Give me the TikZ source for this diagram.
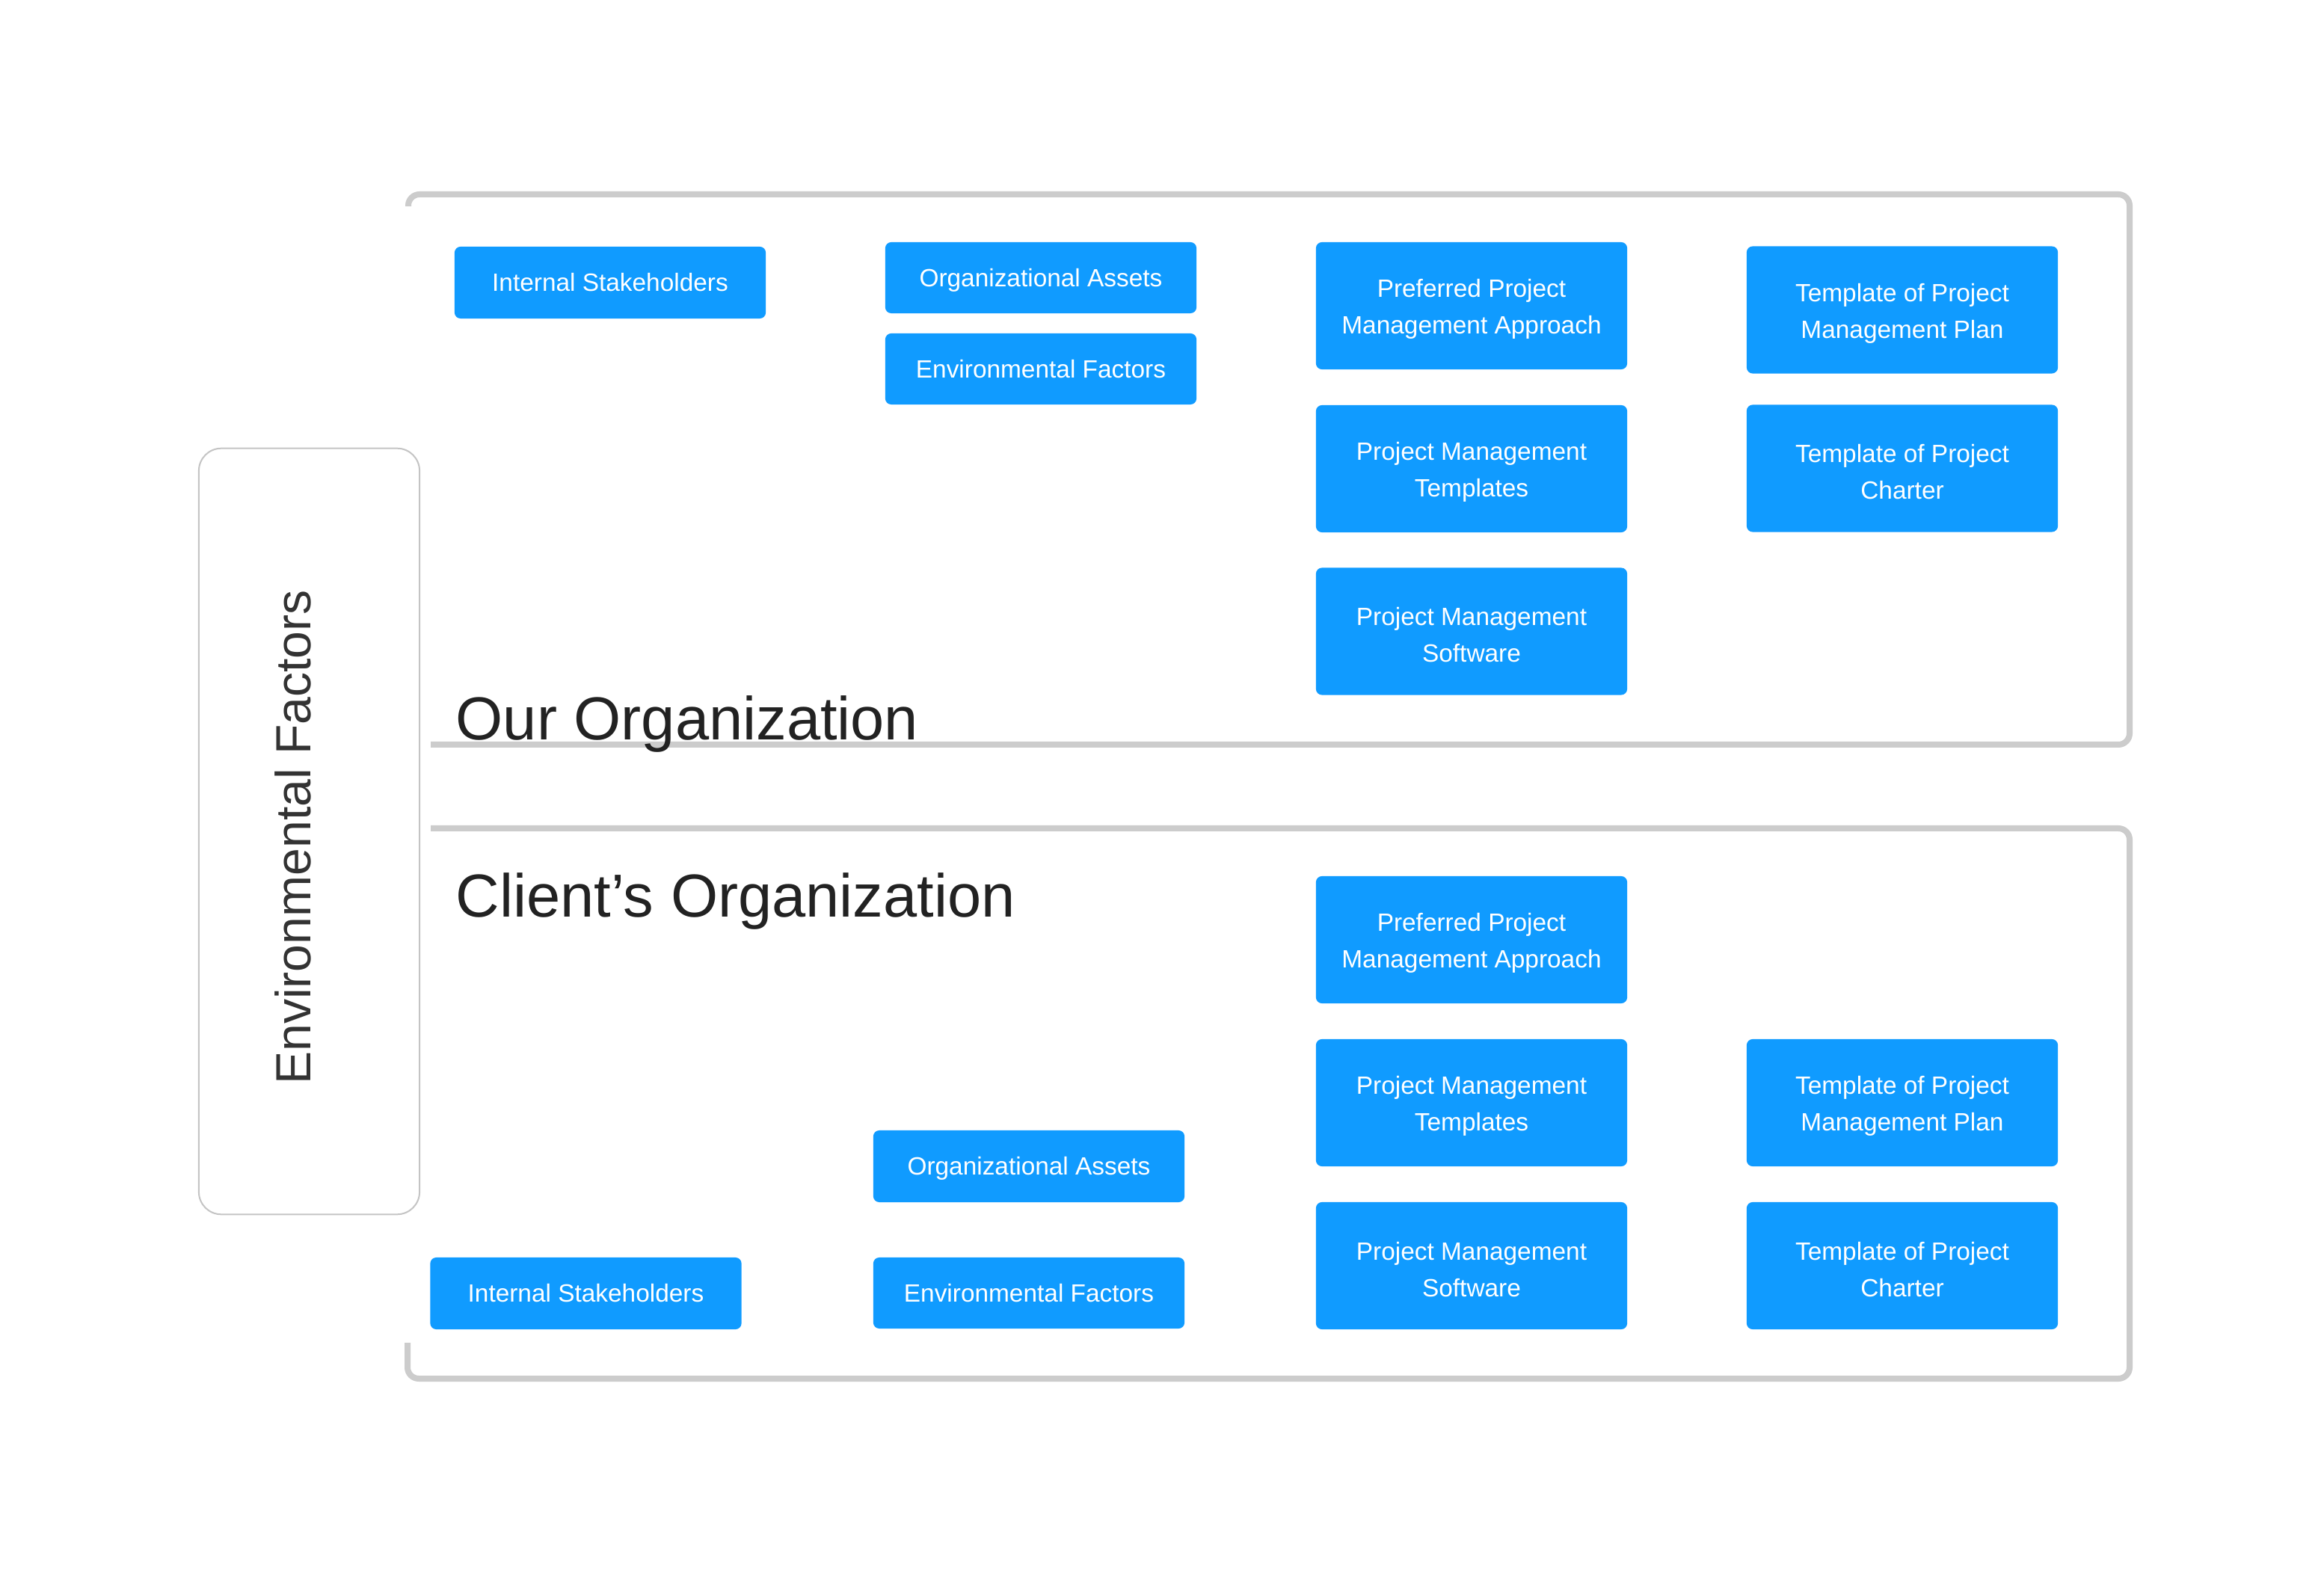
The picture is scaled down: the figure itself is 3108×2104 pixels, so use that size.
\documentclass[tikz,border=0pt]{standalone}
\usepackage{fontspec}
\setmainfont{Liberation Sans}
\definecolor{boxblue}{HTML}{109BFF}
\definecolor{framegray}{HTML}{CCCCCC}
\definecolor{headink}{HTML}{222222}
\definecolor{envink}{HTML}{333333}
\definecolor{envedge}{HTML}{C4C4C4}
\newcommand\boxstrut{\rule{0pt}{9.6pt}}
\tikzset{
  bluebox/.style={fill=boxblue, rounded corners=0.08cm, text=white,
    font=\fontsize{9.5}{13.9}\selectfont, align=center, inner sep=0pt,
    minimum width=4.16cm},
  tallbox/.style={bluebox, minimum height=1.70cm},
  flatbox/.style={bluebox, minimum height=0.96cm,
    execute at begin node={\rule{0pt}{9.3pt}},
    execute at end node={\rule[-2.5pt]{0pt}{2.5pt}}},
  frameline/.style={draw=framegray, line width=0.08cm, rounded corners=0.15cm},
  envframe/.style={draw=envedge, line width=0.02cm, fill=white, rounded corners=0.3cm,
    inner sep=0pt, minimum width=2.95cm, minimum height=10.24cm},
  headtext/.style={text=headink, font=\fontsize{23.1}{27}\selectfont, inner sep=0pt, anchor=base west},
  envtext/.style={text=envink, font=\fontsize{18.8}{22}\selectfont, inner sep=0pt, rotate=90, anchor=base}
}
\begin{document}
\begin{tikzpicture}[x=0.01cm, y=-0.01cm]
\useasboundingbox[fill=white] (0,0) rectangle (3108,2104);

% left environmental factors panel
\node[envframe] (envpanel) at (413.5,1112) {};
\node[envtext] (envlabel) at (415,1120) {Environmental Factors};

% frames
\draw[frameline] (546,276) |- (2848,260) -- (2848,996) -- (576,996);
\draw[frameline] (576,1108) -| (2848,1844) -| (545,1796);

% headings
\node[headtext] (ourorg) at (609,990) {Our Organization};
\node[headtext] (clientorg) at (609,1227) {Client’s Organization};

% our organization boxes
\node[flatbox] (is1) at (816,378) {Internal Stakeholders};
\node[flatbox, minimum height=0.95cm] (oa1) at (1392,371.5) {Organizational Assets};
\node[flatbox, minimum height=0.95cm] (ef1) at (1392,493.5) {Environmental Factors};
\node[tallbox] (ppma1) at (1968,409) {\boxstrut Preferred Project\\Management Approach};
\node[tallbox] (pmt1) at (1968,627) {\boxstrut Project Management\\Templates};
\node[tallbox] (pms1) at (1968,844.5) {\boxstrut Project Management\\Software};
\node[tallbox] (tpmp1) at (2544,414.5) {\boxstrut Template of Project\\Management Plan};
\node[tallbox] (tpc1) at (2544,626.5) {\boxstrut Template of Project\\Charter};

% client's organization boxes
\node[tallbox] (ppma2) at (1968,1257) {\boxstrut Preferred Project\\Management Approach};
\node[tallbox] (pmt2) at (1968,1475) {\boxstrut Project Management\\Templates};
\node[tallbox] (pms2) at (1968,1693) {\boxstrut Project Management\\Software};
\node[tallbox] (tpmp2) at (2544,1475) {\boxstrut Template of Project\\Management Plan};
\node[tallbox] (tpc2) at (2544,1693) {\boxstrut Template of Project\\Charter};
\node[flatbox] (oa2) at (1376,1560) {Organizational Assets};
\node[flatbox, minimum height=0.95cm] (ef2) at (1376,1729.5) {Environmental Factors};
\node[flatbox] (is2) at (783.5,1730) {Internal Stakeholders};
\end{tikzpicture}
\end{document}
